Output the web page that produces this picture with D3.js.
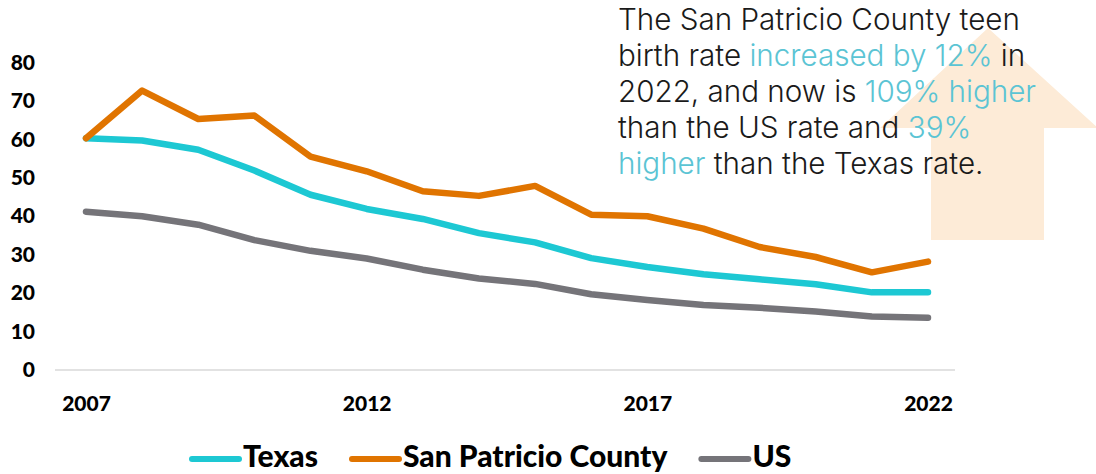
<!DOCTYPE html>
<html lang="en">
<head>
<meta charset="utf-8" />
<title>Teen Birth Rate</title>
<style>
  body { margin: 0; background: #fff; }
  .axis text { font: 900 21px Lato, sans-serif; fill: #000; }
  .axis path, .axis line { display: none; }
  .legend text { font: 900 30px Lato, sans-serif; fill: #000; }
  .note { font-family: Inter, sans-serif; font-weight: 300; fill: #1a1a1a; }
  .note .hl { fill: #5bc4d4; }
</style>
</head>
<body>
<div id="chart"></div>
<script src="https://cdn.jsdelivr.net/npm/d3@7"></script>
<script>
var years = [2007, 2008, 2009, 2010, 2011, 2012, 2013, 2014, 2015, 2016, 2017, 2018, 2019, 2020, 2021, 2022];
var texas = [60.3, 59.7, 57.3, 51.9, 45.6, 41.9, 39.3, 35.6, 33.2, 29.1, 26.8, 24.9, 23.6, 22.3, 20.2, 20.2];
var sanPatricio = [60.3, 72.7, 65.3, 66.2, 55.5, 51.7, 46.5, 45.3, 47.9, 40.4, 40.0, 36.8, 32.0, 29.4, 25.4, 28.2];
var us = [41.2, 40.0, 37.8, 33.8, 31.0, 29.0, 26.1, 23.8, 22.4, 19.7, 18.2, 16.9, 16.2, 15.2, 13.9, 13.6];
var yTicks = [0, 10, 20, 30, 40, 50, 60, 70, 80];
var xTicks = [2007, 2012, 2017, 2022];

var series = [
  { name: "Texas", values: texas, color: "#1dc8d3" },
  { name: "San Patricio County", values: sanPatricio, color: "#e07400" },
  { name: "US", values: us, color: "#757479" }
];

var noteLines = [
  [["The San Patricio County teen", false]],
  [["birth rate ", false], ["increased by 12%", true], [" in", false]],
  [["2022, and now is ", false], ["109% higher", true]],
  [["than the US rate and ", false], ["39%", true]],
  [["higher", true], [" than the Texas rate.", false]]
];

var W = 1096, H = 474;

var svg = d3.select("#chart").append("svg")
    .attr("width", W)
    .attr("height", H);

var x = d3.scaleLinear().domain([2007, 2022]).range([86, 928]);
var y = d3.scaleLinear().domain([0, 80]).range([370, 62.5]);

// background arrow
var ax = 988;
svg.append("path")
    .attr("d", "M" + ax + ",28 L" + (ax + 110) + ",128 L" + (ax + 56) + ",128 L" + (ax + 56) + ",240 L" +
              (ax - 57) + ",240 L" + (ax - 57) + ",128 L" + (ax - 108) + ",128 Z")
    .attr("fill", "#fdebd7");

// baseline
svg.append("line")
    .attr("x1", x.range()[0] - 31).attr("x2", x.range()[1] + 27)
    .attr("y1", y(0)).attr("y2", y(0))
    .attr("stroke", "#d9d9d9")
    .attr("stroke-width", 1.5);

svg.append("g")
    .attr("class", "y axis")
    .attr("transform", "translate(35,0)")
    .call(d3.axisLeft(y).tickValues(yTicks).tickSize(0).tickPadding(0));

svg.append("g")
    .attr("class", "x axis")
    .attr("transform", "translate(0," + y(0) + ")")
    .call(d3.axisBottom(x).tickValues(xTicks).tickFormat(d3.format("d")).tickSize(0).tickPadding(26));

var line = d3.line()
    .x(function (d, i) { return x(years[i]); })
    .y(function (d) { return y(d); });

// draw US, Texas, then county on top
[series[2], series[0], series[1]].forEach(function (s) {
  svg.append("path")
      .datum(s.values)
      .attr("d", line)
      .attr("fill", "none")
      .attr("stroke", s.color)
      .attr("stroke-width", 6.5)
      .attr("stroke-linecap", "round")
      .attr("stroke-linejoin", "round");
});

// annotation text
var note = svg.append("text").attr("class", "note");
var fontSize = 26;
note.style("font-size", fontSize + "px");
noteLines.forEach(function (ln, i) {
  var t = note.append("tspan").attr("x", 618).attr("y", 30 + i * 36);
  ln.forEach(function (seg, j) {
    (j === 0 ? t : note.append("tspan"))
        .attr("class", seg[1] ? "hl" : null)
        .text(seg[0]);
  });
});
// fit the first line width
var firstLen = note.select("tspan").node().getComputedTextLength();
fontSize = fontSize * 402 / firstLen;
note.style("font-size", fontSize + "px");

// legend
var legend = svg.append("g").attr("class", "legend");
var lx = 190;
series.forEach(function (s) {
  legend.append("line")
      .attr("x1", lx + 2).attr("x2", lx + 49)
      .attr("y1", 459).attr("y2", 459)
      .attr("stroke", s.color)
      .attr("stroke-width", 6)
      .attr("stroke-linecap", "round");
  var t = legend.append("text")
      .attr("x", lx + 53)
      .attr("y", 467)
      .text(s.name);
  lx += 53 + t.node().getComputedTextLength() + 32;
});
</script>
</body>
</html>
